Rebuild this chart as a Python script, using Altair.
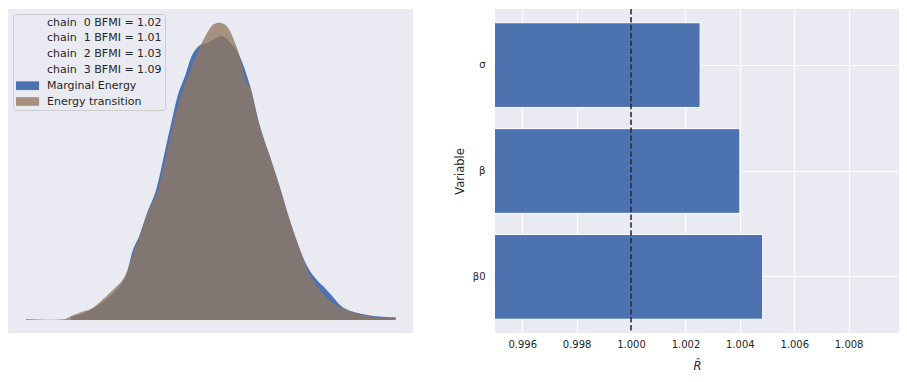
import altair as alt
import pandas as pd

# ---- Left panel: energy KDEs (energy units arbitrary) ----
me_energy = [-14.9, -14.0, -13.0, -12.0, -11.0, -10.3, -9.7, -9.3, -8.83, -8.0, -7.33, -6.33,
             -5.33, -4.83, -4.33, -3.5, -2.83, -2.4, -2.0, -1.3, -0.6, 0.2, 0.6, 1.0, 1.5,
             2.0, 2.4, 2.7, 3.2, 3.8, 4.2, 4.9, 6.0, 7.0, 8.17, 8.8, 9.6, 10.5, 11.3, 12.0,
             12.8, 13.67, 14.5, 15.33, 16.5, 17.5]
me_density = [0.0010, 0.0018, 0.0033, 0.0053, 0.0080, 0.0103, 0.0130, 0.0157, 0.0220, 0.0287,
              0.0353, 0.0441, 0.0590, 0.0663, 0.0736, 0.0813, 0.0880, 0.0903, 0.0916, 0.0923,
              0.0937, 0.0947, 0.0940, 0.0925, 0.0907, 0.0877, 0.0843, 0.0813, 0.0757, 0.0670,
              0.0623, 0.0553, 0.0441, 0.0330, 0.0219, 0.0174, 0.0137, 0.0107, 0.0077, 0.0050,
              0.0033, 0.0024, 0.0018, 0.0013, 0.0010, 0.0008]

et_energy = [-19.4, -18.0, -16.5, -15.5, -14.9, -14.0, -12.7, -12.0, -11.0, -10.3, -9.9, -9.5,
             -9.1, -8.7, -8.0, -7.33, -6.13, -5.33, -4.6, -4.0, -3.17, -2.4, -2.0, -1.67, -1.17,
             -0.67, -0.1, 0.5, 1.0, 1.5, 1.9, 2.43, 3.17, 3.83, 4.2, 4.93, 6.0, 7.0, 8.17, 8.73,
             9.4, 10.0, 10.7, 11.5, 12.0, 12.8, 13.67, 14.5, 15.33, 16.5, 17.6]
et_density = [0.0003, 0.0002, 0.0001, 0.0003, 0.0013, 0.0025, 0.0041, 0.0060, 0.0091, 0.0113,
              0.0127, 0.0147, 0.0180, 0.0220, 0.0283, 0.0350, 0.0441, 0.0557, 0.0663, 0.0737,
              0.0813, 0.0877, 0.0910, 0.0933, 0.0963, 0.0985, 0.0991, 0.0985, 0.0963, 0.0924,
              0.0887, 0.0813, 0.0757, 0.0663, 0.0620, 0.0552, 0.0441, 0.0330, 0.0219, 0.0167,
              0.0127, 0.0100, 0.0073, 0.0052, 0.0043, 0.0032, 0.0022, 0.0016, 0.0011, 0.0007,
              0.0010]

legend_labels = ["chain\u00a0 0 BFMI = 1.02", "chain\u00a0 1 BFMI = 1.01",
                 "chain\u00a0 2 BFMI = 1.03", "chain\u00a0 3 BFMI = 1.09",
                 "Marginal Energy", "Energy transition"]
legend_colors = ["rgba(0,0,0,0)", "rgba(0,0,0,0)", "rgba(0,0,0,0)", "rgba(0,0,0,0)",
                 "#4c72b0", "rgba(147,120,96,0.77)"]

# ---- Right panel: R-hat ----
variables = ["σ", "β", "β0"]
rhat = [1.00254, 1.00400, 1.00484]
rhat_ticks = [0.996, 0.998, 1.000, 1.002, 1.004, 1.006, 1.008]
ref_line = [1.0]

FONT = "DejaVu Sans"
TXT = "#262626"

df_me = pd.DataFrame({"energy": me_energy, "density": me_density, "series": "Marginal Energy"})
df_et = pd.DataFrame({"energy": et_energy, "density": et_density, "series": "Energy transition"})

color_enc = alt.Color(
    "series:N",
    scale=alt.Scale(domain=legend_labels, range=legend_colors),
    legend=alt.Legend(
        title=None, orient="top-left", offset=5, padding=3,
        symbolType="M-1,-0.79H3.2V0.79H-1Z", symbolSize=121, symbolStrokeWidth=0,
        labelFont=FONT, labelFontSize=11, labelColor=TXT, labelOffset=20,
        rowPadding=3.8, fillColor="#eaeaf2", strokeColor="#cccccc", cornerRadius=3,
    ),
)

xs = alt.Scale(domain=[-21.2, 19.3], nice=False, zero=False)
ys = alt.Scale(domain=[-0.00433, 0.10367], nice=False, zero=False)

me_layer = alt.Chart(df_me).mark_area(interpolate="monotone").encode(
    x=alt.X("energy:Q", scale=xs, axis=None),
    y=alt.Y("density:Q", scale=ys, axis=None, stack=None),
    color=color_enc,
)
et_layer = alt.Chart(df_et).mark_area(interpolate="monotone").encode(
    x=alt.X("energy:Q", scale=xs, axis=None),
    y=alt.Y("density:Q", scale=ys, axis=None, stack=None),
    color=color_enc,
)
left = alt.layer(me_layer, et_layer).properties(width=405, height=324)

df_r = pd.DataFrame({"variable": variables, "rhat": rhat})
df_line = pd.DataFrame({"rhat": ref_line})

xr = alt.Scale(domain=[0.995, 1.00985], nice=False, zero=False)

bars = alt.Chart(df_r).mark_bar(color="#4c72b0", stroke="white", strokeWidth=1, clip=True).encode(
    x=alt.X("rhat:Q", scale=xr,
            axis=alt.Axis(values=rhat_ticks, format=".3f", title="R\u0302", grid=True,
                          gridColor="white", gridWidth=1.2, domain=False, ticks=False,
                          labelPadding=6, labelFont=FONT, labelFontSize=10, labelColor=TXT,
                          titleFont=FONT, titleFontSize=11.5, titleFontStyle="italic",
                          titleFontWeight="normal", titleColor=TXT, titlePadding=11)),
    x2=alt.datum(0.99),
    y=alt.Y("variable:N", sort=variables,
            scale=alt.Scale(paddingInner=0.2, paddingOuter=0.13),
            axis=alt.Axis(title="Variable", grid=True, bandPosition=0.5, gridColor="white",
                          gridWidth=1.2, domain=False, ticks=False, labelPadding=10,
                          labelFont=FONT, labelFontSize=10, labelColor=TXT,
                          titleFont=FONT, titleFontSize=11.5, titleFontWeight="normal",
                          titleColor=TXT, titlePadding=7)),
)
rule = alt.Chart(df_line).mark_rule(color="#2e2e33", strokeWidth=1.6, strokeDash=[5.5, 2.4]).encode(
    x=alt.X("rhat:Q", scale=xr)
)
right = alt.layer(bars, rule).properties(width=404, height=324)

chart = alt.hconcat(left, right, spacing=41).properties(
    padding={"left": 0, "top": 0, "right": 0, "bottom": 0},
    background="white",
).configure_view(stroke=None, fill="#eaeaf2")

chart.save("out.html", embed_options={"renderer": "svg", "actions": False})
